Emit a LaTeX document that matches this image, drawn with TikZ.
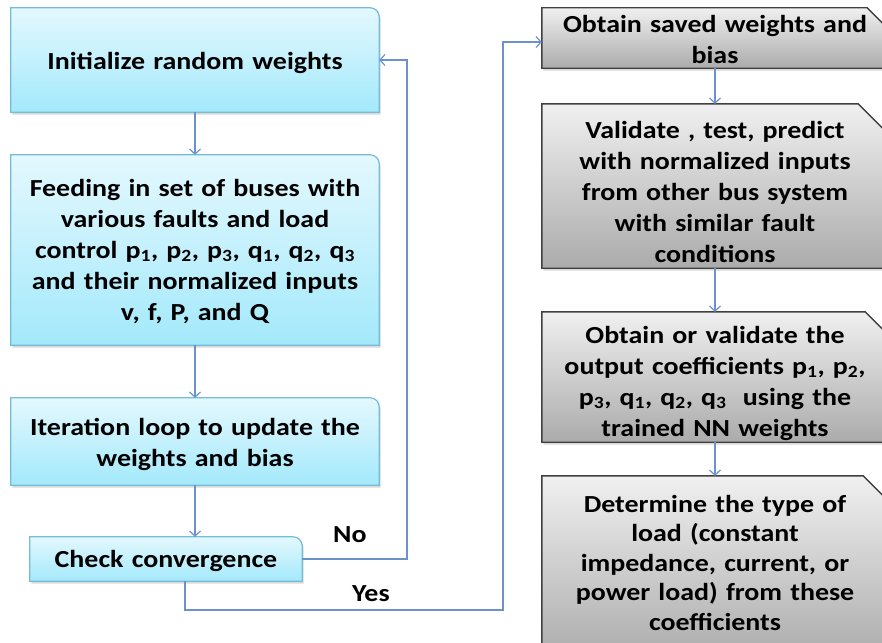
\documentclass[tikz,border=0pt]{standalone}
\usepackage{fontspec}
\setmainfont{Carlito}[FakeStretch=1.14]
\usepackage{tikz}
\usetikzlibrary{arrows.meta,backgrounds,shadows}
\definecolor{cyantop}{HTML}{E4F8FE}
\definecolor{cyanbot}{HTML}{A3E9FB}
\definecolor{cyanline}{HTML}{74BDD9}
\definecolor{graytop}{HTML}{F0F0F0}
\definecolor{graybot}{HTML}{ABABAB}
\definecolor{grayline}{HTML}{404040}
\definecolor{flowline}{HTML}{6C92CC}
\newcommand{\flowfont}{\fontsize{24.5}{31}\selectfont\bfseries}
\tikzset{
  steptext/.style={font=\flowfont, align=center, inner sep=0pt, anchor=base},
  cyanshape/.style={top color=cyantop, bottom color=cyanbot, draw=cyanline, line width=1.2pt,
    drop shadow={shadow xshift=1.5pt, shadow yshift=-2.5pt, opacity=0.3}},
  grayshape/.style={top color=graytop, bottom color=graybot, draw=grayline, line width=1.4pt,
    drop shadow={shadow xshift=1.5pt, shadow yshift=-2.5pt, opacity=0.3}},
  flowarrow/.style={-{Straight Barb[length=5pt,width=11pt]}, line width=1.2pt, draw=flowline},
  flowlabel/.style={font=\flowfont, inner sep=0pt, anchor=base west}
}

\begin{document}
\begin{tikzpicture}[x=1pt,y=-1pt]

  \useasboundingbox (0,0) rectangle (882,642);

  % training column
  \node[steptext, text width=368pt, text height=61pt, text depth=43pt] (init) at (195,69)
  {Initialize random weights};
  \node[steptext, text width=368pt, text height=41pt, text depth=149pt] (feed) at (195,196)
  {Feeding in set of buses with\\ various faults and load\\
   control p\textsubscript{1}, p\textsubscript{2}, p\textsubscript{3}, q\textsubscript{1}, q\textsubscript{2}, q\textsubscript{3}\\
   and their normalized inputs\\ v, f, P, and Q};
  \node[steptext, text width=368pt, text height=37pt, text depth=50pt] (iter) at (195,435)
  {Iteration loop to update the\\ weights and bias};
  \node[steptext, text width=272pt, text height=30pt, text depth=14pt] (check) at (166,567)
  {Check convergence};

  % test column
  \node[steptext, text width=346pt, text height=25pt, text depth=35pt] (saved) at (715,33)
  {Obtain saved weights and\\ bias};
  \node[steptext, text width=346pt, text height=34pt, text depth=130pt] (valid) at (715,138)
  {Validate , test, predict\\ with normalized inputs\\ from other bus system\\
   with similar fault\\ conditions};
  \node[steptext, text width=346pt, text height=31pt, text depth=99pt] (coef) at (715,343)
  {Obtain or validate the\\ output coefficients p\textsubscript{1}, p\textsubscript{2},\\
   p\textsubscript{3}, q\textsubscript{1}, q\textsubscript{2}, q\textsubscript{3}\ \ using the\\ trained NN weights};
  \node[steptext, text width=346pt, text height=36pt, text depth=148pt,
        font=\fontsize{24.5}{29.5}\selectfont\bfseries] (ltype) at (715,512)
  {Determine the type of\\ load (constant\\ impedance, current, or\\
   power load) from these\\ coefficients};

  % box outlines behind the text
  \begin{scope}[on background layer]
    \foreach \n in {init,feed,iter,check}
      \path[cyanshape] (\n.south west) -- (\n.north west) -- ([xshift=-9pt]\n.north east)
        arc[start angle=90, end angle=0, radius=9pt] -- (\n.south east) -- cycle;
    \foreach \n/\c in {saved/21pt,valid/30pt,coef/23pt,ltype/25pt}
      \path[grayshape] (\n.south west) -- (\n.north west) -- ([xshift=-\c]\n.north east)
        -- ([yshift=-\c]\n.north east) -- (\n.south east) -- cycle;
  \end{scope}

  % decision labels
  \node[flowlabel] (nolabel) at (333,542) {No};
  \node[flowlabel] (yeslabel) at (352,601) {Yes};

  % arrows
  \draw[flowarrow] (init.south) -- (feed.north);
  \draw[flowarrow] (feed.south) -- (iter.north);
  \draw[flowarrow] (iter.south) -- (iter.south |- check.north);

  \coordinate (nox) at (407,558);
  \draw[flowarrow] (check.east) -- (check.east -| nox) |- (init.east);

  \coordinate (yesfoot) at (185,610);
  \coordinate (yesturn) at (503,610);
  \draw[flowarrow] (check.south -| yesfoot) -- (yesfoot) -- (yesturn)
    |- ([yshift=-4pt]saved.west);

  \draw[flowarrow] (saved.south) -- (valid.north);
  \draw[flowarrow] (valid.south) -- (coef.north);
  \draw[flowarrow] (coef.south) -- (ltype.north);

\end{tikzpicture}
\end{document}
